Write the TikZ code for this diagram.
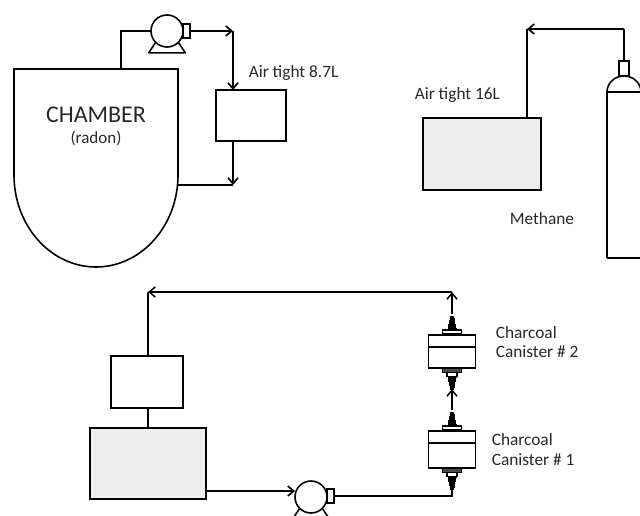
\documentclass[tikz,border=0pt]{standalone}
\usepackage{fontspec}
\setmainfont{Carlito}
\usetikzlibrary{arrows.meta}
\definecolor{panelgray}{RGB}{238, 238, 238}
\definecolor{inktext}{RGB}{40, 40, 40}

\begin{document}
\begin{tikzpicture}[
        x=1pt, y=-1pt,
        line width=1.6pt,
        box/.style = {draw, rectangle, inner sep=0pt, outer sep=0pt},
        pump/.style = {draw, circle, minimum size=32pt, inner sep=0pt, outer sep=0pt, fill=white},
        outlet/.style = {box, minimum width=7pt, minimum height=14pt},
        collar/.style = {box, minimum width=19pt, minimum height=4pt, fill=white},
        thread/.style = {inner sep=0pt, outer sep=0pt, minimum width=8pt, minimum height=2pt},
        label/.style = {anchor=west, inner sep=0pt, text=inktext, font=\fontsize{17.3}{19}\selectfont},
        arrow/.style = {-{Straight Barb[length=6pt, width=10pt]}}
    ]
        \clip (0,0) rectangle (640,516);

        % Chamber loop
        \node [minimum width=164pt, minimum height=106pt, inner sep=0pt, outer sep=0pt] (chamber) at (96,122) {};
        \draw (chamber.north west) -- (chamber.north east) -- (chamber.south east)
            arc[start angle=0, end angle=-180, x radius=82pt, y radius=92pt] -- cycle;
        \node [text=inktext, font=\fontsize{24}{26}\selectfont, inner sep=0pt] (chambertext) at (96,115) {CHAMBER};
        \node [text=inktext, font=\fontsize{17}{19}\selectfont, inner sep=0pt] (radontext) at (96,138) {(radon)};
        \node [pump] (pumpa) at (167,31) {};
        \node [outlet] (outleta) at (186.5,31) {};
        \node [box, minimum width=70pt, minimum height=51pt] (boxa) at (251,115.5) {};
        \node [label] (airtighta) at (248,73) {Air tight 8.7L};
        \coordinate (cornera) at (121,31);
        \coordinate (cornerb) at (233,31);
        \coordinate (cornerc) at (233,185);
        \coordinate (chamberout) at (177.5,185);

        % Methane cylinder
        \node [box, fill=panelgray, minimum width=118pt, minimum height=72pt] (boxb) at (482,154) {};
        \node [label] (airtightb) at (414,95) {Air tight 16L};
        \node [label] (methane) at (509,219) {Methane};
        \node [box, minimum width=10pt, minimum height=15pt] (neck) at (624,68.5) {};
        \draw (607,258) -- (607,92) -- (642,92);
        \draw (607,92) arc[start angle=180, end angle=0, x radius=17pt, y radius=16pt];
        \draw (607,258) -- (642,258);
        \coordinate (cornerd) at (624,29);
        \coordinate (cornere) at (527,29);

        % Canister loop
        \node [box, minimum width=72pt, minimum height=52pt] (boxc) at (147,382) {};
        \node [box, fill=panelgray, minimum width=116pt, minimum height=71pt] (boxd) at (148,463.5) {};
        \node [pump] (pumpb) at (311,497) {};
        \node [outlet] (outletb) at (330.5,496) {};
        \coordinate (cornerf) at (452,496);
        \coordinate (cornerg) at (452,292);
        \coordinate (cornerh) at (148,292);
        \coordinate (boxdout) at (206,491);

        \foreach \n/\y/\h in {1/431/37, 2/335/33} {
            \node [box, minimum width=47pt, minimum height=\h pt, fill=white] (can\n) at (452,\y+\h/2) {};
            \draw (can\n.west |- 0,\y+12) -- (can\n.east |- 0,\y+12);
            \node [collar] (capup\n) at (452,\y-3) {};
            \node [collar, fill=black!70] (capdn\n) at (452,\y+\h+2.5) {};
            \node [box, minimum width=10pt, minimum height=4pt, fill=white] (neck\n) at (452,\y+\h+6.5) {};
            \node [thread] (thrup\n) at (452,\y-20) {};
            \node [thread] (thrdn\n) at (452,\y+\h+20) {};
            \foreach \k in {0,2,4,6,8,10,12} {
                \draw [line width=1.7pt] (447.5+\k/5,\y-6-\k) -- (456.5-\k/5,\y-6-\k);
                \draw [line width=1.7pt] (447.5+\k/5,\y+\h+9+\k) -- (456.5-\k/5,\y+\h+9+\k);
            }
        }
        \node [label] (charcoalb) at (495,333) {Charcoal};
        \node [label] (canisterb) at (495,352) {Canister \# 2};
        \node [label] (charcoala) at (491,440) {Charcoal};
        \node [label] (canistera) at (491,460) {Canister \# 1};

        % Pump feet
        \foreach \p in {pumpa,pumpb}
            \draw [line join=round] (\p.225) -- ++(-7,10.5) -- ++(36.6,0) -- (\p.315);

        % Connectors
        \draw (chamber.north -| cornera) -- (cornera) -- (pumpa.west);
        \draw [arrow] (outleta.east) -- (cornerb);
        \draw [arrow] (cornerb) -- (cornerb |- boxa.north);
        \draw [arrow] (cornerb |- boxa.south) -- (cornerc);
        \draw (chamberout) -- (cornerc);

        \draw (neck.north) -- (cornerd);
        \draw [arrow] (cornerd) -- (cornere);
        \draw (cornere) -- (cornere |- boxb.north);

        \draw [arrow] (boxdout) -- (pumpb.west |- boxdout);
        \draw (boxc.south -| boxd.north) -- (boxd.north);
        \draw (outletb.east) -- (cornerf) -- (thrdn1.south);
        \draw [arrow] (thrup1.north) -- (thrdn2.south);
        \draw [arrow] (thrup2.north) -- (cornerg);
        \draw [arrow] (cornerg) -- (cornerh);
        \draw (cornerh) -- (boxc.north -| cornerh);
    \end{tikzpicture}
\end{document}
